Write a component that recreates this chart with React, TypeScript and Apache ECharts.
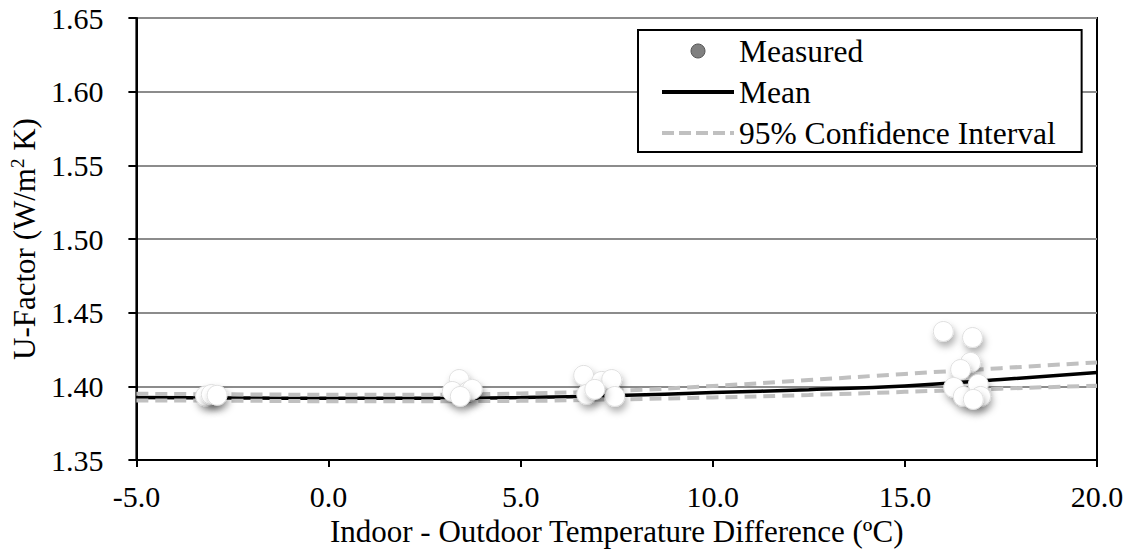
import React, { useEffect, useRef } from "react";
import * as echarts from "echarts";

// Measured points (temperature difference °C, U-factor W/m²K)
const measuredX = [
  -3.2, -3.05, -2.9,
  3.4, 3.22, 3.64, 3.74, 3.43,
  6.64, 6.72, 7.11, 7.37, 7.45, 6.93,
  16.0, 16.76, 16.71, 16.45, 16.27, 16.52, 16.91, 16.97, 16.78,
];
const measuredY = [
  1.3935, 1.3945, 1.3940,
  1.4047, 1.3966, 1.3966, 1.398, 1.3932,
  1.4075, 1.3946, 1.4034, 1.4047, 1.3932, 1.398,
  1.4373, 1.4332, 1.4163, 1.4115, 1.3993, 1.3932, 1.4014, 1.3932, 1.3912,
];

// Fitted curves
const curveX = [-5, -2.5, 0, 2.5, 5, 7.5, 10, 12.5, 15, 17.5, 20];
const meanY = [1.3925, 1.3922, 1.392, 1.392, 1.3925, 1.3938, 1.3958, 1.3978, 1.4003, 1.4047, 1.4095];
const upperY = [1.395, 1.3946, 1.3944, 1.3944, 1.3952, 1.397, 1.4003, 1.4043, 1.4085, 1.4124, 1.4163];
const lowerY = [1.3905, 1.3903, 1.39, 1.39, 1.3902, 1.3912, 1.3925, 1.3942, 1.3963, 1.3985, 1.4005];

const xTitle = "Indoor - Outdoor Temperature Difference (ºC)";
const yTitle = "U-Factor (W/m{sup|2} K)";

const FONT = "Liberation Serif";

const zip = (xs: number[], ys: number[]) => xs.map((x, i) => [x, ys[i]]);

export default function App() {
  const ref = useRef<HTMLDivElement>(null);
  useEffect(() => {
    if (!ref.current) return;
    const chart = echarts.init(ref.current, undefined, { renderer: "svg" });
    const ciStyle = { color: "#c0c0c0", width: 4, type: [12, 7] as any };
    chart.setOption({
      animation: false,
      backgroundColor: "#ffffff",
      textStyle: { fontFamily: FONT, color: "#000" },
      grid: {
        left: 133,
        right: 31,
        top: 18,
        bottom: 91,
        show: true,
        borderColor: "#000",
        borderWidth: 2,
      },
      legend: {
        left: 638,
        top: 30,
        orient: "vertical",
        itemWidth: 72,
        itemHeight: 14,
        itemGap: 9,
        padding: [5, 26, 3, 22],
        borderColor: "#000",
        borderWidth: 2,
        backgroundColor: "#fff",
        textStyle: { fontFamily: FONT, fontSize: 31.5, color: "#000" },
        data: [
          {
            name: "Measured",
            icon: "circle",
            itemStyle: { color: "#808080", borderColor: "#555", borderWidth: 1, shadowBlur: 0, shadowOffsetX: 0, shadowOffsetY: 0 },
          },
          { name: "Mean", itemStyle: { opacity: 0 }, lineStyle: { color: "#000", width: 4 } },
          {
            name: "95% Confidence Interval",
            itemStyle: { opacity: 0 },
            lineStyle: { color: "#c0c0c0", width: 4, type: [12, 5] },
          },
        ],
      },
      xAxis: {
        type: "value",
        min: -5,
        max: 20,
        interval: 5,
        name: xTitle,
        nameLocation: "middle",
        nameGap: 54,
        nameTextStyle: { fontFamily: FONT, fontSize: 31, color: "#000" },
        axisLine: { show: true, onZero: false, lineStyle: { color: "#000", width: 2 } },
        axisTick: { show: true, inside: false, length: 7, lineStyle: { color: "#000", width: 2 } },
        axisLabel: {
          fontFamily: FONT,
          fontSize: 30,
          color: "#000",
          margin: 21,
          formatter: (v: number) => v.toFixed(1),
        },
        splitLine: { show: false },
      },
      yAxis: {
        type: "value",
        min: 1.35,
        max: 1.65,
        interval: 0.05,
        name: yTitle,
        nameLocation: "middle",
        nameGap: 90,
        nameRotate: 90,
        nameTextStyle: {
          fontFamily: FONT,
          fontSize: 31,
          color: "#000",
          rich: {
            sup: { fontFamily: FONT, fontSize: 19, color: "#000", verticalAlign: "top", padding: [0, 0, 14, 0] },
          },
        },
        axisLine: { show: true, onZero: false, lineStyle: { color: "#000", width: 2 } },
        axisTick: { show: true, inside: false, length: 8, lineStyle: { color: "#000", width: 2 } },
        axisLabel: {
          fontFamily: FONT,
          fontSize: 30,
          color: "#000",
          margin: 33,
          formatter: (v: number) => v.toFixed(2),
        },
        splitLine: { show: true, lineStyle: { color: "#8c8c8c", width: 2 } },
      },
      series: [
        {
          name: "Mean",
          type: "line",
          data: zip(curveX, meanY),
          smooth: true,
          symbol: "none",
          lineStyle: { color: "#000", width: 3.5 },
          z: 2,
        },
        {
          name: "95% Confidence Interval",
          type: "line",
          data: zip(curveX, upperY),
          smooth: true,
          symbol: "none",
          lineStyle: ciStyle,
          z: 3,
        },
        {
          name: "95% Confidence Interval",
          type: "line",
          data: zip(curveX, lowerY),
          smooth: true,
          symbol: "none",
          lineStyle: ciStyle,
          z: 3,
        },
        {
          name: "Measured",
          type: "scatter",
          data: zip(measuredX, measuredY),
          symbol: "circle",
          symbolSize: 20,
          itemStyle: {
            color: "#ffffff",
            borderColor: "#e0e0e0",
            borderWidth: 1,
            opacity: 1,
            shadowBlur: 7,
            shadowColor: "rgba(0,0,0,0.3)",
            shadowOffsetX: 2,
            shadowOffsetY: 5,
          },
          z: 4,
        },
      ],
    });
    return () => chart.dispose();
  }, []);
  return (
    <div
      ref={ref}
      style={{ position: "fixed", left: 0, top: 0, width: 1128, height: 552, background: "#fff" }}
    />
  );
}
